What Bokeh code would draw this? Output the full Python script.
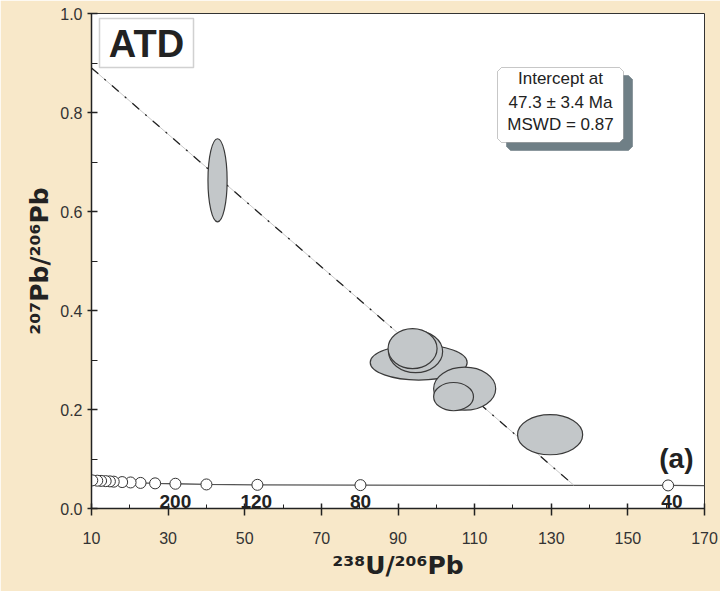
from bokeh.plotting import figure
from bokeh.models import (Range1d, FixedTicker, BoxAnnotation, PolyAnnotation,
                          Label, ColumnDataSource)
from bokeh.embed import file_html
from bokeh.resources import INLINE

# ---------------- data ----------------
x_ticks = [10, 30, 50, 70, 90, 110, 130, 150, 170]
x_minor = [20, 40, 60, 80, 100, 120, 140, 160]
x_tick_labels = ["10", "30", "50", "70", "90", "110", "130", "150", "170"]
y_ticks = [0.0, 0.2, 0.4, 0.6, 0.8, 1.0]
y_minor = [0.1, 0.3, 0.5, 0.7, 0.9]
y_tick_labels = ["0.0", "0.2", "0.4", "0.6", "0.8", "1.0"]

# concordia curve (Tera-Wasserburg) and its age markers
concordia_x = [170.0, 160.5, 80.2, 53.3, 40.0, 31.9, 26.6, 22.8, 20.2, 18.0,
               15.8, 14.8, 13.7, 12.5, 11.5, 10.2, 10.0]
concordia_y = [0.0464, 0.0466, 0.0472, 0.0478, 0.0486, 0.0500, 0.0508, 0.0517,
               0.0526, 0.0534, 0.0542, 0.0548, 0.0553, 0.0558, 0.0562, 0.0568, 0.0570]
marker_x = concordia_x[1:-1]
marker_y = concordia_y[1:-1]
age_labels = ["40", "80", "120", "200"]
age_label_x = [161.5, 80.2, 53.0, 31.9]

# analyses (error ellipses)
ell_x = [42.9, 95.4, 94.6, 93.8, 107.4, 104.5, 129.7]
ell_y = [0.663, 0.295, 0.317, 0.323, 0.242, 0.226, 0.149]
ell_w = [5.0, 25.3, 14.1, 12.8, 16.2, 10.4, 17.0]
ell_h = [0.168, 0.071, 0.085, 0.081, 0.087, 0.057, 0.081]

# discordia regression line
disc_x = [10.0, 135.9]
disc_y = [0.890, 0.047]

# ---------------- figure ----------------
p = figure(width=720, height=591, x_range=Range1d(10, 170), y_range=Range1d(0, 1.0),
           output_backend="svg", toolbar_location=None,
           min_border_left=91, min_border_right=16, min_border_top=13, min_border_bottom=83,
           background_fill_color="white", border_fill_color="#f8e8c9",
           outline_line_color="#333333", outline_line_width=1)
p.grid.visible = False

FONT = "Liberation Sans"

xa = p.xaxis[0]
xa.ticker = FixedTicker(ticks=x_ticks, minor_ticks=x_minor)
xa.major_label_overrides = {t: l for t, l in zip(x_ticks, x_tick_labels)}
xa.major_tick_out = 7
xa.major_tick_in = 5
xa.minor_tick_out = 0
xa.minor_tick_in = 4
xa.major_label_standoff = 16
xa.axis_label = "²³⁸U/²⁰⁶Pb"
xa.axis_label_standoff = 4

ya = p.yaxis[0]
ya.ticker = FixedTicker(ticks=y_ticks, minor_ticks=y_minor)
ya.major_label_overrides = {t: l for t, l in zip(y_ticks, y_tick_labels)}
ya.major_tick_out = 4
ya.major_tick_in = 6
ya.minor_tick_out = 0
ya.minor_tick_in = 6
ya.major_label_standoff = 5
ya.axis_label = "²⁰⁷Pb/²⁰⁶Pb"
ya.axis_label_standoff = 3

for ax in (xa, ya):
    ax.axis_line_color = "#222222"
    ax.axis_line_width = 1.5
    ax.major_tick_line_color = "#222222"
    ax.major_tick_line_width = 1.5
    ax.minor_tick_line_color = "#222222"
    ax.major_label_text_font = FONT
    ax.major_label_text_font_size = "16px"
    ax.major_label_text_color = "#333333"
    ax.axis_label_text_font = "DejaVu Sans"
    ax.axis_label_text_font_size = "25px"
    ax.axis_label_text_font_style = "bold"
    ax.axis_label_text_color = "#222222"

# concordia
p.line(concordia_x, concordia_y, line_color="#555555", line_width=1.3)
p.scatter(marker_x, marker_y, size=11, marker="circle", fill_color="white",
          line_color="#333333", line_width=1)
src_age = ColumnDataSource(dict(x=age_label_x, y=[0.001] * len(age_labels), t=age_labels))
p.text(x="x", y="y", text="t", source=src_age, text_align="center",
       text_baseline="bottom", text_font={"value": FONT}, text_font_size="19px",
       text_font_style="bold", text_color="#222222")

# discordia
p.line(disc_x, disc_y, line_color="#c8c8c8", line_width=1)
p.line(disc_x, disc_y, line_color="#222222", line_width=1.3, line_dash="9 8 2 8")

# ellipses
p.ellipse(x=ell_x, y=ell_y, width=ell_w, height=ell_h, fill_color="#c3c7c9",
          line_color="#3a3a3a", line_width=1.2)

# ---------------- annotations ----------------
def px2x(px):
    return (px - 91) / (613 / 160) + 10

def py2y(py):
    return (508 - py) / 495

# ATD box
p.add_layout(BoxAnnotation(left=px2x(99), right=px2x(193), top=py2y(18), bottom=py2y(67),
                           fill_color="white", fill_alpha=1, line_color="#666666",
                           line_width=1.5))
p.add_layout(Label(x=px2x(146), y=py2y(43), text="ATD", text_align="center",
                   text_baseline="middle", text_font=FONT, text_font_size="38px",
                   text_font_style="bold", text_color="#222222"))

# intercept box with shadow
def chamfer(l, t, r, b, c):
    xs = [l + c, r - c, r, r, r - c, l + c, l, l]
    ys = [t, t, t + c, b - c, b, b, b - c, t + c]
    return [px2x(v) for v in xs], [py2y(v) for v in ys]

sx, sy = chamfer(506, 75, 632, 150, 4)
p.add_layout(PolyAnnotation(xs=sx, ys=sy, fill_color="#6f7f86", fill_alpha=1,
                            line_color="#6f7f86", line_alpha=0.6))
bx, by = chamfer(497, 67, 623, 142, 4)
p.add_layout(PolyAnnotation(xs=bx, ys=by, fill_color="white", fill_alpha=1,
                            line_color="#444444", line_width=1))
for txt, yy in [("Intercept at", 78), ("47.3 ± 3.4 Ma", 102), ("MSWD = 0.87", 124)]:
    p.add_layout(Label(x=px2x(560), y=py2y(yy), text=txt, text_align="center",
                       text_baseline="middle", text_font=FONT, text_font_size="17px",
                       text_color="#222222"))

# panel tag
p.add_layout(Label(x=px2x(693), y=py2y(458), text="(a)", text_align="right",
                   text_baseline="alphabetic", text_font=FONT, text_font_size="28px",
                   text_font_style="bold", text_color="#222222"))

open("out.html", "w").write(file_html(p, INLINE))
